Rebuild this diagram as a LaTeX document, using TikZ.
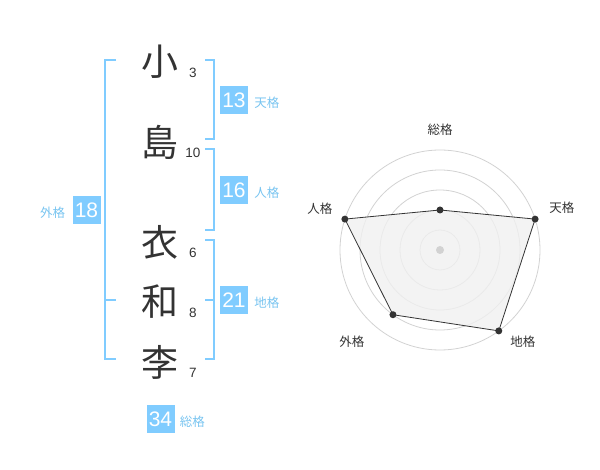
\documentclass[tikz,border=0pt]{standalone}
\usepackage{fontspec}
\setmainfont{Liberation Sans}
\newfontfamily\jpfont{Noto Sans CJK JP}
\usetikzlibrary{positioning}
\definecolor{kakublue}{RGB}{128,204,255}
\definecolor{kakutext}{RGB}{120,196,240}
\definecolor{darktext}{RGB}{51,51,51}
\definecolor{ringgray}{RGB}{210,210,210}

\begin{document}
\begin{tikzpicture}[x=1pt,y=-1pt]
	\tikzstyle{kanji}=[font=\jpfont\fontsize{37}{37}\selectfont,text=darktext,inner sep=0]
	\tikzstyle{strokes}=[font=\fontsize{13.5}{13.5}\selectfont,text=darktext,inner sep=0]
	\tikzstyle{score}=[fill=kakublue,text=white,minimum size=28pt,inner sep=0,font=\fontsize{21}{21}\selectfont]
	\tikzstyle{kaku}=[font=\jpfont\fontsize{12.5}{12.5}\selectfont,text=kakutext,inner sep=0]
	\tikzstyle{bracket}=[draw=kakublue,line width=2pt]
	\tikzstyle{axis}=[font=\jpfont\fontsize{12.5}{12.5}\selectfont,text=darktext,inner sep=0]
	\tikzstyle{dot}=[circle,fill=darktext,inner sep=0,minimum size=7pt]

	\useasboundingbox (0,0) rectangle (600,470);

	% name
	\node [kanji] (k1) at (160,62) {小};
	\node [kanji] (k2) at (160,142) {島};
	\node [kanji] (k3) at (160,242) {衣};
	\node [kanji] (k4) at (160,302) {和};
	\node [kanji] (k5) at (160,362) {李};
	\node [strokes] (n1) at (193,73) {3};
	\node [strokes] (n2) at (193,153) {10};
	\node [strokes] (n3) at (193,253) {6};
	\node [strokes] (n4) at (193,313) {8};
	\node [strokes] (n5) at (193,373) {7};

	% brackets
	\draw [bracket] (116,60) -- (105,60) -- (105,359) -- (116,359);
	\draw [bracket] (105,300) -- (116,300);
	\draw [bracket] (205,60) -- (214,60) -- (214,139) -- (205,139);
	\draw [bracket] (205,149) -- (214,149) -- (214,230) -- (205,230);
	\draw [bracket] (205,240) -- (214,240) -- (214,359) -- (205,359);
	\draw [bracket] (205,300) -- (214,300);

	% scores
	\node [score] (ten) at (234,100) {13};
	\node [kaku, right=6pt of ten, yshift=-3pt] {天格};
	\node [score] (jin) at (234,190) {16};
	\node [kaku, right=6pt of jin, yshift=-3pt] {人格};
	\node [score] (chi) at (234,300) {21};
	\node [kaku, right=6pt of chi, yshift=-3pt] {地格};
	\node [score] (gai) at (86.5,210) {18};
	\node [kaku, left=7pt of gai, yshift=-3pt] {外格};
	\node [score] (sou) at (160.5,419) {34};
	\node [kaku, right=5pt of sou, yshift=-3pt] {総格};

	% radar
	\begin{scope}[shift={(440,250)}]
		\foreach \r in {20,40,60,80,100}
			\draw [ringgray, line width=0.8pt] (0,0) circle (\r);
		\coordinate (rsou) at (-90:40);
		\coordinate (rten) at (-18:100);
		\coordinate (rchi) at (54:100);
		\coordinate (rgai) at (126:80);
		\coordinate (rjin) at (198:100);
		\draw [fill=black!6, fill opacity=0.8, draw=darktext, line width=0.8pt]
			(rsou) -- (rten) -- (rchi) -- (rgai) -- (rjin) -- cycle;
		\node [circle, fill=ringgray, inner sep=0, minimum size=8pt] (center) at (0,0) {};
		\foreach \p in {rsou,rten,rchi,rgai,rjin}
			\node [dot] at (\p) {};
		\node [axis] (lsou) at (-90:120) {総格};
		\node [axis] (lten) at (-19:129) {天格};
		\node [axis] (lchi) at (48:124) {地格};
		\node [axis] (lgai) at (134:127) {外格};
		\node [axis] (ljin) at (199:127) {人格};
	\end{scope}
\end{tikzpicture}
\end{document}
